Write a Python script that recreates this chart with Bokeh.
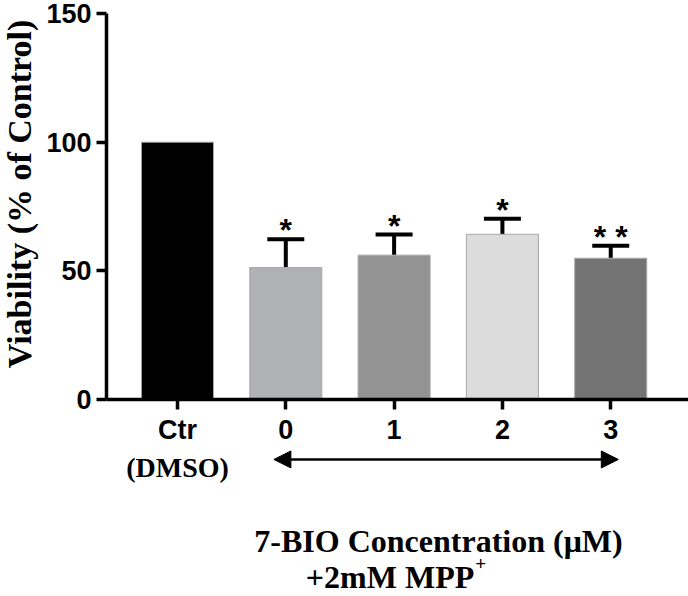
import math
from bokeh.plotting import figure
from bokeh.models import (ColumnDataSource, FixedTicker, Whisker, TeeHead, Arrow,
                          NormalHead)
from bokeh.core.properties import value
from bokeh.embed import file_html
from bokeh.resources import INLINE

# ---- data ----
categories = ["Ctr", "0", "1", "2", "3"]
viability = [100.0, 51.3, 56.1, 64.2, 54.9]
sem = [0.0, 11.0, 8.0, 6.0, 4.8]
significance = ["", "*", "*", "*", "* *"]
bar_colors = ["#000000", "#b0b1b5", "#939393", "#dcdcdc", "#747474"]
y_ticks = [0, 50, 100, 150]

xpos = list(range(len(categories)))
upper = [v + e for v, e in zip(viability, sem)]

src = ColumnDataSource(dict(x=xpos, top=viability, upper=upper, color=bar_colors,
                            sig=significance))
err_src = ColumnDataSource(dict(x=xpos[1:], top=viability[1:], upper=upper[1:]))

X_AXIS_START = -0.655
X_END = 4.718
Y_MIN, Y_MAX = 0, 150

p = figure(width=688, height=596, output_backend="svg", toolbar_location=None,
           x_range=(-1.634, X_END), y_range=(-76.55, 155.05),
           min_border_left=0, min_border_right=0, min_border_top=0,
           min_border_bottom=0)
p.outline_line_color = None
p.grid.visible = False
p.background_fill_color = "white"
p.border_fill_color = "white"

p.vbar(x="x", top="top", width=0.665, bottom=0, fill_color="color",
       line_color="#a8a8a8", line_width=1, source=src)

whisk = Whisker(base="x", upper="upper", lower="top", source=err_src,
                line_width=4, line_color="black",
                upper_head=TeeHead(size=37, line_width=4, line_color="black"),
                lower_head=None)
p.add_layout(whisk)

p.text(x="x", y="upper", text="sig", source=src, text_align="center",
       text_baseline="alphabetic", y_offset=-9,
       text_font=value("Liberation Sans"), text_font_style="bold",
       text_font_size="32px", text_color="black")

# axes placed at fixed data locations
for ax in (p.xaxis[0], p.yaxis[0]):
    ax.axis_line_width = 3.5
    ax.axis_line_color = "black"
    ax.major_tick_line_width = 3.5
    ax.major_tick_line_color = "black"
    ax.major_tick_out = 10
    ax.major_tick_in = 0
    ax.minor_tick_line_color = None
    ax.major_label_text_font = "Liberation Sans"
    ax.major_label_text_font_style = "bold"
    ax.major_label_text_font_size = "27px"
    ax.major_label_text_color = "black"

p.yaxis.fixed_location = X_AXIS_START
p.yaxis.bounds = (Y_MIN, Y_MAX)
p.yaxis.ticker = FixedTicker(ticks=y_ticks)
p.yaxis.major_label_standoff = 5

p.xaxis.fixed_location = 0
p.xaxis.bounds = (X_AXIS_START, X_END)
p.xaxis.ticker = FixedTicker(ticks=xpos)
p.xaxis.major_label_overrides = {i: c for i, c in zip(xpos, categories)}
p.xaxis.major_label_standoff = 5

serif = value("Liberation Serif")

# y axis title
p.text(x=[-1.455], y=[79.9], text=["Viability (% of Control)"], angle=math.pi / 2,
       text_align="center", text_baseline="middle", text_font=serif,
       text_font_style="bold", text_font_size="34px", text_color="black")

# (DMSO) under Ctr
p.text(x=[xpos[0]], y=[-26.5], text=["(DMSO)"], text_align="center",
       text_baseline="alphabetic", text_font=serif, text_font_style="bold",
       text_font_size="28px", text_color="black")

# double arrow across the treatment groups
p.add_layout(Arrow(x_start=xpos[1] - 0.11, y_start=-23.3, x_end=xpos[4] + 0.07, y_end=-23.3,
                   line_width=2.5, line_color="black",
                   start=NormalHead(size=17, fill_color="black", line_color="black"),
                   end=NormalHead(size=17, fill_color="black", line_color="black")))

# bottom title
p.text(x=[2.41], y=[-55.0], text=["7-BIO Concentration (\u03bcM)"],
       text_align="center", text_baseline="alphabetic", text_font=serif,
       text_font_style="bold", text_font_size="32px", text_color="black")
p.text(x=[2.74], y=[-68.8], text=["+2mM MPP"], text_align="right",
       text_baseline="alphabetic", text_font=serif, text_font_style="bold",
       text_font_size="32px", text_color="black")
p.text(x=[2.75], y=[-63.6], text=["+"], text_align="left",
       text_baseline="alphabetic", text_font=serif, text_font_style="bold",
       text_font_size="19px", text_color="black")

open("out.html", "w").write(file_html(p, INLINE))
